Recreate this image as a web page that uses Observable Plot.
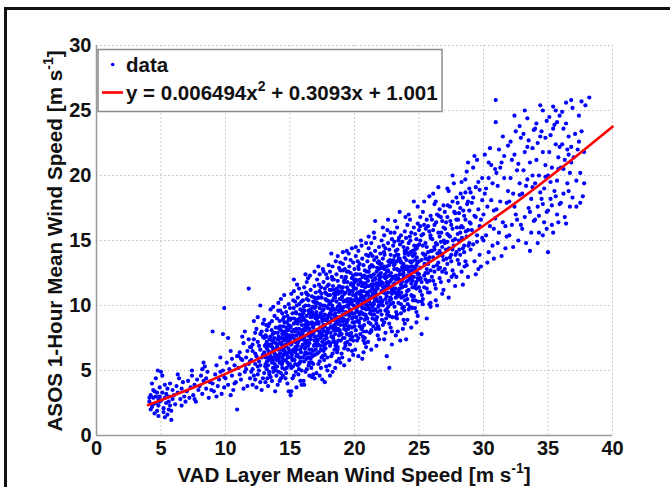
<!DOCTYPE html>
<html><head><meta charset="utf-8">
<script src="https://cdn.jsdelivr.net/npm/d3@7"></script>
<script src="https://cdn.jsdelivr.net/npm/@observablehq/plot@0.6"></script>
<style>
html,body{margin:0;padding:0;background:#fff;}
#wrap{position:relative;width:670px;height:487px;overflow:hidden;background:#fff;}
#frame{position:absolute;left:4px;top:7px;width:720px;height:540px;border-left:3px solid #111;border-top:3px solid #111;pointer-events:none;}
</style></head><body><div id="wrap"><div id="chart"></div><div id="frame"></div></div>
<script>
// Tick values
const xTicks = [0, 5, 10, 15, 20, 25, 30, 35, 40];
const yTicks = [0, 5, 10, 15, 20, 25, 30];

// Fitted curve (legend: y = 0.006494x^2 + 0.3093x + 1.001)
const fitX = [4, 6, 8, 10, 12, 14, 16, 18, 20, 22, 24, 26, 28, 30, 32, 34, 36, 38, 40];
const fitY = [2.34, 3.09, 3.89, 4.74, 5.65, 6.60, 7.61, 8.67, 9.79, 10.95, 12.17, 13.43, 14.75, 16.13, 17.55, 19.02, 20.55, 22.13, 23.76];

// Scatter points (x, y pairs), grouped by x band
const outliers = [9.0,8.0, 9.8,7.8, 9.9,9.8, 10.9,2.0, 11.8,11.3, 12.7,10.0, 8.3,5.6];
const b04 = [4.1,2.6, 4.2,3.1, 4.3,2.2, 4.4,2.9, 4.5,3.4, 4.6,2.5, 4.7,1.9, 4.8,2.8, 4.9,3.7, 4.2,2.0, 4.4,3.5, 4.6,3.0, 4.8,2.3, 4.3,4.0, 4.7,3.3, 4.9,2.6, 4.5,1.7, 4.1,2.9, 4.6,4.4, 4.8,1.5, 4.4,2.4, 4.9,3.0, 4.75,5.0];
const b05 = [5.0,2.7, 5.1,3.3, 5.2,2.1, 5.3,3.9, 5.4,2.5, 5.5,1.6, 5.6,3.0, 5.7,2.3, 5.8,1.2, 5.9,3.5, 5.1,4.6, 5.3,2.9, 5.5,3.6, 5.7,4.0, 5.2,1.8, 5.4,3.2, 5.6,2.6, 5.8,1.9, 5.9,2.8, 5.0,4.9, 5.3,1.4, 5.6,2.0];
const b06 = [6.0,3.1, 6.1,2.4, 6.2,3.8, 6.3,3.3, 6.4,4.4, 6.5,2.8, 6.6,3.6, 6.7,4.1, 6.8,3.0, 6.9,2.6, 6.3,4.7, 6.6,2.3];
const b07 = [7.0,3.4, 7.1,4.2, 7.2,2.9, 7.3,3.7, 7.4,4.6, 7.5,3.1, 7.6,3.9, 7.7,2.6, 7.8,4.3, 7.9,3.5, 7.4,5.0, 7.6,2.8];
const b08 = [8.0,3.8, 8.1,4.6, 8.2,3.2, 8.3,4.2, 8.4,5.3, 8.5,3.6, 8.6,4.9, 8.7,2.9, 8.8,4.1, 8.9,3.5, 8.5,4.4, 8.2,5.1];
const b09 = [9.0,4.0, 9.1,3.4, 9.2,4.7, 9.3,5.4, 9.4,3.8, 9.5,4.3, 9.6,6.0, 9.7,3.2, 9.8,5.0, 9.9,4.5, 9.3,3.0, 9.6,4.9, 9.9,3.7];
const b10 = [10.0,4.4, 10.1,5.6, 10.2,3.9, 10.3,5.1, 10.4,6.5, 10.5,4.6, 10.6,3.5, 10.7,5.4, 10.8,4.1, 10.9,6.1, 10.2,7.5, 10.5,5.9, 10.7,4.0, 10.4,3.1];
const b11 = [11.0,5.2, 11.1,6.4, 11.2,4.3, 11.3,5.8, 11.4,7.1, 11.5,4.9, 11.6,6.0, 11.7,3.8, 11.8,5.5, 11.9,6.8, 11.1,4.7, 11.3,7.6, 11.5,5.4, 11.7,6.5, 11.9,4.4, 11.2,5.9, 11.4,3.6, 11.6,5.1, 11.8,7.4, 11.0,6.1, 11.5,8.0, 11.9,5.7];
const b12 = [12.0,5.8, 12.1,7.0, 12.2,4.6, 12.3,6.3, 12.4,8.2, 12.5,5.3, 12.6,6.9, 12.7,4.1, 12.8,6.0, 12.9,7.6, 12.0,4.9, 12.1,6.5, 12.2,8.8, 12.3,5.5, 12.4,3.7, 12.5,7.2, 12.6,5.0, 12.7,6.6, 12.8,8.0, 12.9,4.4, 12.0,6.8, 12.1,5.1, 12.2,7.4, 12.3,4.3, 12.4,6.1, 12.5,9.1, 12.6,5.7, 12.7,7.8, 12.8,3.5, 12.9,6.2, 12.3,7.9, 12.5,4.7, 12.7,5.4, 12.9,8.6, 12.1,3.9];
const b13 = [13.0,6.4, 13.1,7.7, 13.2,5.1, 13.3,6.9, 13.4,8.6, 13.5,4.5, 13.6,7.3, 13.7,5.8, 13.8,9.2, 13.9,6.2, 13.0,4.8, 13.1,6.0, 13.2,8.1, 13.3,5.4, 13.4,7.0, 13.5,9.7, 13.6,4.2, 13.7,6.6, 13.8,7.9, 13.9,5.0, 13.0,7.5, 13.1,5.5, 13.2,6.7, 13.3,3.8, 13.4,5.9, 13.5,7.6, 13.6,8.8, 13.7,4.9, 13.8,6.3, 13.9,7.1, 13.0,8.9, 13.1,4.1, 13.2,7.2, 13.3,8.4, 13.4,4.7, 13.5,6.1, 13.6,5.6, 13.7,9.9, 13.8,5.2, 13.9,8.3, 13.05,6.9, 13.25,4.4, 13.45,6.4, 13.65,7.8, 13.85,3.4, 13.15,8.5, 13.35,5.8, 13.55,7.0, 13.75,6.0, 13.95,4.6];
const b14 = [14.0,7.0, 14.1,8.3, 14.2,5.6, 14.3,7.5, 14.4,9.4, 14.5,6.2, 14.6,8.0, 14.7,4.8, 14.8,7.2, 14.9,10.1, 14.0,5.3, 14.1,6.6, 14.2,8.8, 14.3,4.4, 14.4,7.8, 14.5,5.8, 14.6,9.9, 14.7,6.9, 14.8,4.0, 14.9,8.5, 14.0,9.0, 14.1,4.9, 14.2,7.1, 14.3,10.5, 14.4,6.0, 14.5,8.4, 14.6,5.1, 14.7,7.6, 14.8,9.2, 14.9,6.4, 14.0,6.1, 14.1,10.2, 14.2,4.2, 14.3,8.1, 14.4,5.2, 14.5,7.3, 14.6,6.5, 14.7,9.5, 14.8,5.6, 14.9,3.4, 14.05,7.9, 14.15,5.8, 14.25,9.6, 14.35,6.7, 14.45,4.6, 14.55,10.8, 14.65,7.0, 14.75,8.7, 14.85,6.0, 14.95,7.7, 14.05,3.9, 14.25,6.3, 14.45,8.9, 14.65,4.4, 14.85,8.1, 14.15,7.4, 14.35,5.5, 14.55,6.8, 14.75,5.2, 14.95,9.0];
const b15 = [15.0,7.4, 15.1,9.0, 15.2,5.9, 15.3,12.0, 15.3,8.1, 15.4,10.3, 15.5,6.6, 15.6,8.6, 15.7,5.1, 15.8,7.8, 15.9,10.9, 15.0,5.5, 15.1,7.0, 15.2,9.4, 15.3,4.6, 15.4,8.0, 15.5,6.1, 15.6,10.6, 15.7,7.3, 15.8,4.2, 15.9,9.2, 15.0,9.8, 15.1,5.2, 15.2,7.6, 15.3,11.1, 15.4,6.4, 15.5,8.9, 15.6,5.4, 15.7,8.2, 15.8,9.7, 15.9,6.8, 15.0,6.5, 15.1,10.9, 15.2,4.4, 15.3,8.6, 15.4,5.5, 15.5,7.7, 15.6,6.9, 15.7,10.1, 15.8,6.0, 15.9,3.9, 15.05,8.4, 15.15,6.2, 15.25,10.4, 15.35,7.2, 15.45,4.9, 15.55,11.6, 15.65,7.4, 15.75,9.3, 15.85,6.4, 15.95,8.1, 15.05,3.1, 15.25,6.6, 15.45,9.5, 15.65,4.7, 15.85,8.8, 15.15,8.0, 15.35,5.8, 15.55,7.1, 15.75,5.6, 15.95,9.6, 15.1,3.4, 15.5,3.7, 15.9,5.0, 15.7,11.3];
const b16 = [16.0,8.0, 16.1,9.6, 16.2,6.4, 16.3,8.6, 16.4,10.8, 16.5,7.1, 16.6,9.1, 16.7,5.6, 16.8,8.3, 16.9,11.5, 16.0,6.0, 16.1,7.5, 16.2,10.0, 16.3,5.1, 16.4,8.5, 16.5,6.6, 16.6,11.2, 16.7,7.8, 16.8,4.7, 16.9,9.8, 16.0,10.4, 16.1,5.7, 16.2,8.1, 16.3,11.8, 16.4,6.9, 16.5,9.4, 16.6,5.9, 16.7,8.7, 16.8,10.3, 16.9,7.3, 16.0,7.0, 16.1,11.4, 16.2,4.9, 16.3,9.2, 16.4,6.0, 16.5,8.2, 16.6,7.4, 16.7,10.7, 16.8,6.5, 16.9,4.4, 16.05,8.9, 16.15,6.7, 16.25,11.0, 16.35,7.7, 16.45,5.4, 16.55,12.3, 16.65,7.9, 16.75,9.9, 16.85,6.9, 16.95,8.6, 16.05,4.2, 16.25,7.1, 16.45,10.0, 16.65,5.2, 16.85,9.3, 16.15,8.5, 16.35,6.3, 16.55,7.6, 16.75,6.1, 16.95,10.2, 16.1,3.9, 16.4,12.1, 16.7,4.5, 16.9,12.6, 16.3,10.5, 16.6,9.7, 16.8,5.5, 16.0,9.1, 16.5,4.6, 16.2,12.4];
const b17 = [17.0,8.6, 17.1,10.2, 17.2,7.0, 17.3,9.2, 17.4,11.4, 17.5,7.7, 17.6,9.7, 17.7,6.2, 17.8,8.9, 17.9,12.1, 17.0,6.6, 17.1,8.1, 17.2,10.6, 17.3,5.7, 17.4,9.1, 17.5,7.2, 17.6,11.8, 17.7,8.4, 17.8,5.3, 17.9,10.4, 17.0,11.0, 17.1,6.3, 17.2,8.7, 17.3,12.4, 17.4,7.5, 17.5,10.0, 17.6,6.5, 17.7,9.3, 17.8,10.9, 17.9,7.9, 17.0,7.6, 17.1,12.0, 17.2,5.5, 17.3,9.8, 17.4,6.6, 17.5,8.8, 17.6,8.0, 17.7,11.3, 17.8,7.1, 17.9,5.0, 17.05,9.5, 17.15,7.3, 17.25,11.6, 17.35,8.3, 17.45,6.0, 17.55,12.8, 17.65,8.5, 17.75,10.5, 17.85,7.5, 17.95,9.2, 17.05,4.8, 17.25,7.7, 17.45,10.6, 17.65,5.8, 17.85,9.9, 17.15,9.1, 17.35,6.9, 17.55,8.2, 17.75,6.7, 17.95,10.8, 17.5,4.3, 17.7,4.1, 17.3,4.6, 17.9,6.0, 17.2,13.0, 17.6,12.6, 17.8,12.4, 17.4,5.2, 17.0,9.9, 17.7,7.0];
const b18 = [18.0,9.2, 18.1,10.8, 18.2,7.6, 18.3,9.8, 18.4,12.0, 18.5,8.3, 18.6,10.3, 18.7,6.8, 18.8,9.5, 18.9,12.7, 18.0,7.2, 18.1,8.7, 18.2,11.2, 18.3,6.3, 18.4,9.7, 18.5,7.8, 18.6,12.4, 18.7,9.0, 18.8,5.9, 18.9,11.0, 18.0,11.6, 18.1,6.9, 18.2,9.3, 18.3,13.0, 18.4,8.1, 18.5,10.6, 18.6,7.1, 18.7,9.9, 18.8,11.5, 18.9,8.5, 18.0,8.2, 18.1,12.6, 18.2,6.1, 18.3,10.4, 18.4,7.2, 18.5,9.4, 18.6,8.6, 18.7,11.9, 18.8,7.7, 18.9,5.6, 18.05,10.1, 18.15,7.9, 18.25,12.2, 18.35,8.9, 18.45,6.6, 18.55,13.4, 18.65,9.1, 18.75,11.1, 18.85,8.1, 18.95,9.8, 18.05,5.4, 18.25,8.3, 18.45,11.2, 18.65,6.4, 18.85,10.5, 18.15,9.7, 18.35,7.5, 18.55,8.8, 18.75,7.3, 18.95,11.4, 18.1,4.6, 18.3,4.9, 18.5,5.2, 18.7,13.8, 18.9,13.3, 18.2,14.0, 18.4,10.9, 18.6,5.7, 18.8,12.9, 18.0,13.1];
const b19 = [19.0,9.8, 19.1,11.4, 19.2,8.2, 19.3,10.4, 19.4,12.6, 19.5,8.9, 19.6,10.9, 19.7,7.4, 19.8,10.1, 19.9,13.3, 19.0,7.8, 19.1,9.3, 19.2,11.8, 19.3,6.9, 19.4,10.3, 19.5,8.4, 19.6,13.0, 19.7,9.6, 19.8,6.5, 19.9,11.6, 19.0,12.2, 19.1,7.5, 19.2,9.9, 19.3,13.6, 19.4,8.7, 19.5,11.2, 19.6,7.7, 19.7,10.5, 19.8,12.1, 19.9,9.1, 19.0,8.8, 19.1,13.2, 19.2,6.7, 19.3,11.0, 19.4,7.8, 19.5,10.0, 19.6,9.2, 19.7,12.5, 19.8,8.3, 19.9,6.2, 19.05,10.7, 19.15,8.5, 19.25,12.8, 19.35,9.5, 19.45,7.2, 19.55,14.0, 19.65,9.7, 19.75,11.7, 19.85,8.7, 19.95,10.4, 19.05,6.0, 19.25,8.9, 19.45,11.8, 19.65,7.0, 19.85,11.1, 19.15,10.3, 19.35,8.1, 19.55,9.4, 19.75,7.9, 19.95,12.0, 19.2,5.4, 19.6,5.8, 19.8,14.4, 19.4,14.2, 19.0,6.3, 19.7,13.5, 19.3,12.1, 19.9,7.3, 19.5,6.6, 19.1,14.1];
const b20 = [20.0,10.4, 20.1,12.0, 20.2,8.8, 20.3,11.0, 20.4,13.2, 20.5,9.5, 20.6,11.5, 20.7,8.0, 20.8,10.7, 20.9,13.9, 20.0,8.4, 20.1,9.9, 20.2,12.4, 20.3,7.5, 20.4,10.9, 20.5,9.0, 20.6,13.6, 20.7,10.2, 20.8,7.1, 20.9,12.2, 20.0,12.8, 20.1,8.1, 20.2,10.5, 20.3,14.2, 20.4,9.3, 20.5,11.8, 20.6,8.3, 20.7,11.1, 20.8,12.7, 20.9,9.7, 20.0,9.4, 20.1,13.8, 20.2,7.3, 20.3,11.6, 20.4,8.4, 20.5,10.6, 20.6,9.8, 20.7,13.1, 20.8,8.9, 20.9,6.8, 20.05,11.3, 20.15,9.1, 20.25,13.4, 20.35,10.1, 20.45,7.8, 20.55,14.6, 20.65,10.3, 20.75,12.3, 20.85,9.3, 20.95,11.0, 20.05,6.6, 20.25,9.5, 20.45,12.4, 20.65,7.6, 20.85,11.7, 20.15,10.9, 20.35,8.7, 20.55,10.0, 20.75,8.5, 20.95,12.6, 20.3,6.1, 20.7,6.4, 20.5,15.0, 20.9,14.8, 20.1,14.5, 20.6,5.9, 20.2,11.9, 20.8,7.5];
const b21 = [21.0,11.0, 21.1,12.6, 21.2,9.4, 21.3,11.6, 21.4,13.8, 21.5,10.1, 21.6,12.1, 21.7,8.6, 21.8,11.3, 21.9,14.5, 21.0,9.0, 21.1,10.5, 21.2,13.0, 21.3,8.1, 21.4,11.5, 21.5,9.6, 21.6,14.2, 21.7,10.8, 21.8,7.7, 21.9,12.8, 21.0,13.4, 21.1,8.7, 21.2,11.1, 21.3,14.8, 21.4,9.9, 21.5,12.4, 21.6,8.9, 21.7,11.7, 21.8,13.3, 21.9,10.3, 21.0,10.0, 21.1,14.4, 21.2,7.9, 21.3,12.2, 21.4,9.0, 21.5,11.2, 21.6,10.4, 21.7,13.7, 21.8,9.5, 21.9,7.4, 21.05,11.9, 21.15,9.7, 21.25,14.0, 21.35,10.7, 21.45,8.4, 21.55,15.2, 21.65,10.9, 21.75,12.9, 21.85,9.9, 21.95,11.6, 21.05,7.2, 21.25,10.1, 21.45,13.0, 21.65,8.2, 21.85,12.3, 21.15,11.5, 21.35,9.3, 21.55,10.6, 21.75,9.1, 21.95,13.2, 21.3,6.6, 21.7,6.9, 21.5,15.6, 21.9,8.2, 21.1,15.3, 21.6,16.5];
const b22 = [22.0,11.6, 22.1,13.2, 22.2,10.0, 22.3,12.2, 22.4,14.4, 22.5,10.7, 22.6,12.7, 22.7,9.2, 22.8,11.9, 22.9,15.1, 22.0,9.6, 22.1,11.1, 22.2,13.6, 22.3,8.7, 22.4,12.1, 22.5,10.2, 22.6,14.8, 22.7,11.4, 22.8,8.3, 22.9,13.4, 22.0,14.0, 22.1,9.3, 22.2,11.7, 22.3,15.4, 22.4,10.5, 22.5,13.0, 22.6,9.5, 22.7,12.3, 22.8,13.9, 22.9,10.9, 22.0,10.6, 22.1,15.0, 22.2,8.5, 22.3,12.8, 22.4,9.6, 22.5,11.8, 22.6,11.0, 22.7,14.3, 22.8,10.1, 22.9,8.0, 22.05,12.5, 22.15,10.3, 22.25,14.6, 22.35,11.3, 22.45,9.0, 22.55,15.8, 22.65,11.5, 22.75,13.5, 22.85,10.5, 22.95,12.2, 22.7,5.2, 22.5,6.1, 22.3,7.4, 22.9,7.0, 22.6,16.6, 22.2,16.0, 22.8,15.6, 22.4,7.9];
const b23 = [23.0,12.2, 23.1,13.8, 23.2,10.6, 23.3,12.8, 23.4,15.0, 23.5,11.3, 23.6,13.3, 23.7,9.8, 23.8,12.5, 23.9,15.7, 23.0,10.2, 23.1,11.7, 23.2,14.2, 23.3,9.3, 23.4,12.7, 23.5,10.8, 23.6,15.4, 23.7,12.0, 23.8,8.9, 23.9,14.0, 23.0,14.6, 23.1,9.9, 23.2,12.3, 23.3,16.0, 23.4,11.1, 23.5,13.6, 23.6,10.1, 23.7,12.9, 23.8,14.5, 23.9,11.5, 23.0,11.2, 23.1,15.6, 23.2,9.1, 23.3,13.4, 23.4,10.2, 23.5,12.4, 23.6,11.6, 23.7,14.9, 23.8,10.7, 23.9,8.6, 23.05,13.1, 23.25,10.9, 23.45,15.2, 23.65,11.9, 23.85,9.6, 23.15,16.5, 23.55,7.3, 23.75,8.2, 23.35,8.0, 23.95,16.8, 23.5,17.2, 23.2,7.7, 23.8,13.2, 23.4,13.9, 23.6,9.4];
const b24 = [24.0,12.8, 24.1,14.4, 24.2,11.2, 24.3,13.4, 24.4,15.6, 24.5,11.9, 24.6,13.9, 24.7,10.4, 24.8,13.1, 24.9,16.3, 24.0,10.8, 24.1,12.3, 24.2,14.8, 24.3,9.9, 24.4,13.3, 24.5,11.4, 24.6,16.0, 24.7,12.6, 24.8,9.5, 24.9,14.6, 24.0,15.2, 24.1,10.5, 24.2,12.9, 24.3,16.6, 24.4,11.7, 24.5,14.2, 24.6,10.7, 24.7,13.5, 24.8,15.1, 24.9,12.1, 24.0,11.8, 24.1,16.2, 24.2,9.7, 24.3,14.0, 24.4,10.8, 24.5,13.0, 24.6,12.2, 24.7,15.5, 24.8,11.3, 24.9,9.2, 24.0,7.4, 24.4,8.3, 24.6,18.0, 24.2,17.0, 24.8,8.7, 24.3,12.0, 24.7,14.3, 24.1,8.9, 24.9,17.6, 24.5,9.8];
const b25 = [25.0,13.4, 25.1,15.0, 25.2,11.8, 25.3,14.0, 25.4,16.2, 25.5,12.5, 25.6,14.5, 25.7,11.0, 25.8,13.7, 25.9,16.9, 25.0,11.4, 25.1,12.9, 25.2,15.4, 25.3,10.5, 25.4,13.9, 25.5,12.0, 25.6,16.6, 25.7,13.2, 25.8,10.1, 25.9,15.2, 25.0,15.8, 25.1,11.1, 25.2,13.5, 25.3,17.2, 25.4,12.3, 25.5,14.8, 25.6,11.3, 25.7,14.1, 25.8,15.7, 25.9,12.7, 25.0,12.4, 25.1,16.8, 25.2,10.3, 25.3,14.6, 25.4,11.4, 25.5,13.6, 25.6,12.8, 25.7,16.1, 25.8,11.9, 25.9,9.9, 25.2,7.8, 25.6,9.0, 25.9,10.2, 25.4,18.0, 25.8,18.4];
const b26 = [26.0,14.2, 26.1,15.8, 26.2,12.6, 26.3,14.8, 26.4,17.0, 26.5,13.3, 26.6,15.3, 26.7,11.8, 26.8,14.5, 26.9,17.7, 26.0,12.2, 26.1,13.7, 26.2,16.2, 26.3,11.3, 26.4,14.7, 26.5,12.8, 26.6,17.4, 26.7,14.0, 26.8,10.9, 26.9,16.0, 26.0,16.6, 26.1,11.9, 26.2,14.3, 26.3,18.0, 26.4,13.1, 26.5,15.6, 26.6,12.1, 26.7,14.9, 26.8,16.5, 26.9,13.5, 26.1,18.6, 26.3,10.4, 26.5,19.1, 26.7,16.8, 26.9,11.2, 26.2,17.8, 26.4,10.0, 26.8,12.6];
const b27 = [27.0,14.8, 27.1,16.4, 27.2,13.2, 27.3,15.4, 27.4,17.6, 27.5,13.9, 27.6,15.9, 27.7,12.4, 27.8,15.1, 27.9,18.3, 27.0,12.8, 27.1,14.3, 27.2,16.8, 27.3,11.9, 27.4,15.3, 27.5,13.4, 27.6,18.0, 27.7,14.6, 27.8,11.5, 27.9,16.6, 27.0,17.2, 27.1,12.5, 27.2,14.9, 27.3,18.8, 27.4,13.7, 27.5,16.2, 27.6,12.7, 27.7,19.4, 27.8,17.1, 27.9,14.1, 27.3,10.6, 27.6,20.0, 27.9,12.2, 27.2,19.0];
const b28 = [28.0,15.5, 28.1,17.1, 28.2,13.9, 28.3,16.1, 28.4,18.3, 28.5,14.6, 28.6,16.6, 28.7,13.1, 28.8,15.8, 28.9,19.0, 28.0,13.5, 28.1,15.0, 28.2,17.5, 28.3,12.6, 28.4,16.0, 28.5,14.1, 28.6,18.7, 28.7,15.3, 28.8,12.2, 28.9,17.3, 28.0,17.9, 28.1,13.2, 28.2,15.6, 28.3,19.5, 28.4,14.4, 28.5,16.9, 28.6,13.4, 28.7,20.3, 28.8,18.0, 28.9,14.8, 28.4,11.6, 28.8,21.0];
const b29 = [29.0,16.3, 29.1,17.9, 29.2,14.7, 29.3,16.9, 29.4,19.1, 29.5,15.4, 29.6,17.4, 29.7,13.9, 29.8,16.6, 29.9,19.8, 29.0,14.3, 29.1,15.8, 29.2,18.3, 29.3,13.4, 29.4,16.8, 29.5,14.9, 29.6,19.5, 29.7,16.1, 29.8,13.0, 29.9,18.1, 29.0,18.7, 29.2,20.6, 29.4,12.4, 29.5,21.2, 29.7,18.9, 29.9,15.2, 29.3,21.5, 29.6,12.8];
const b30 = [30.0,17.0, 30.1,18.6, 30.2,15.4, 30.3,17.6, 30.4,19.8, 30.5,16.1, 30.6,18.1, 30.7,14.6, 30.8,17.3, 30.9,20.5, 30.0,15.0, 30.2,19.0, 30.4,14.1, 30.6,20.8, 30.8,15.9, 30.1,21.6, 30.3,13.3, 30.5,22.1, 30.7,19.4, 30.9,16.7, 30.95,25.8, 30.95,24.1, 30.4,21.0, 30.8,13.6];
const b31 = [31.0,17.4, 31.1,19.2, 31.2,15.6, 31.3,18.0, 31.4,21.0, 31.5,16.4, 31.6,19.8, 31.7,14.4, 31.8,17.9, 31.9,22.3, 31.1,14.8, 31.3,20.6, 31.5,23.0, 31.7,16.1, 31.9,18.8, 31.2,22.0, 31.4,13.8, 31.6,21.5, 31.8,15.3, 31.0,20.2];
const b32 = [32.0,18.0, 32.1,19.8, 32.2,16.2, 32.3,18.6, 32.4,21.6, 32.5,17.0, 32.6,20.4, 32.7,15.0, 32.8,18.5, 32.9,22.9, 32.0,15.4, 32.2,21.2, 32.4,24.6, 32.6,16.6, 32.8,19.4, 32.1,22.6, 32.3,14.5, 32.5,23.4, 32.7,20.9, 32.9,16.2, 32.4,17.6, 32.8,23.8];
const b33 = [33.0,18.6, 33.1,20.4, 33.2,16.8, 33.3,19.2, 33.4,22.2, 33.5,17.5, 33.6,21.0, 33.7,15.6, 33.8,19.1, 33.9,23.5, 33.0,15.9, 33.2,21.8, 33.4,24.4, 33.6,17.2, 33.8,20.0, 33.1,23.2, 33.3,14.8, 33.5,22.7, 33.7,18.2, 33.9,16.5, 33.2,25.0, 33.6,14.2, 33.8,22.1, 33.4,19.7];
const b34 = [34.0,19.4, 34.1,21.2, 34.2,17.6, 34.3,20.0, 34.4,23.0, 34.5,18.2, 34.6,21.8, 34.7,16.4, 34.8,19.9, 34.9,24.2, 34.0,16.6, 34.2,22.5, 34.4,25.4, 34.6,17.8, 34.8,20.8, 34.1,24.0, 34.3,15.6, 34.5,23.4, 34.7,19.0, 34.9,17.2, 34.2,14.8, 34.6,15.4, 34.8,22.9, 34.4,18.7, 34.0,23.6, 34.6,25.0, 34.9,15.9, 34.3,16.9];
const b35 = [35.0,20.0, 35.1,21.8, 35.2,18.2, 35.3,20.6, 35.4,23.6, 35.5,18.8, 35.6,22.4, 35.7,17.0, 35.8,20.5, 35.9,24.6, 35.0,17.3, 35.2,23.1, 35.4,25.3, 35.6,18.4, 35.8,21.4, 35.1,24.5, 35.3,16.2, 35.5,23.9, 35.7,19.6, 35.9,17.8, 35.0,14.1, 35.4,15.6, 35.8,16.4, 35.2,19.5, 35.6,25.0, 35.9,22.2, 35.3,17.7, 35.7,24.1];
const b36 = [36.0,20.6, 36.1,22.4, 36.2,18.6, 36.3,21.2, 36.4,24.0, 36.5,19.4, 36.6,23.0, 36.7,17.6, 36.8,21.0, 36.9,25.2, 36.0,17.9, 36.2,23.6, 36.4,25.6, 36.6,18.8, 36.8,22.2, 36.1,24.9, 36.3,16.8, 36.5,22.0, 36.7,20.2, 36.9,18.3, 36.4,16.3, 36.8,25.8, 36.2,20.5, 36.6,21.6];
const b37 = [37.0,21.4, 37.1,23.2, 37.2,19.6, 37.3,22.0, 37.4,24.6, 37.5,20.2, 37.6,23.4, 37.7,18.4, 37.8,21.8, 37.9,25.4, 37.2,17.6, 37.4,22.6, 37.6,25.7, 37.8,19.4, 38.2,26.0, 37.5,17.9];

// Extra points for the dense core of the cloud
const c13 = [13.02,6.2, 13.12,7.0, 13.22,5.7, 13.32,6.5, 13.42,7.4, 13.52,5.9, 13.62,6.8, 13.72,7.2, 13.82,5.5, 13.92,6.7, 13.08,5.3, 13.18,7.6, 13.28,6.0, 13.38,4.9, 13.48,6.9, 13.58,8.1, 13.68,5.2, 13.78,7.5, 13.88,6.1, 13.98,5.8];
const c14 = [14.02,6.8, 14.12,7.6, 14.22,6.3, 14.32,7.1, 14.42,8.0, 14.52,6.5, 14.62,7.4, 14.72,7.8, 14.82,6.1, 14.92,7.3, 14.08,5.9, 14.18,8.2, 14.28,6.6, 14.38,5.5, 14.48,7.5, 14.58,8.7, 14.68,5.8, 14.78,8.1, 14.88,6.7, 14.98,6.4];
const c15 = [15.02,8.3, 15.12,6.4, 15.22,7.7, 15.32,9.0, 15.42,6.8, 15.52,7.3, 15.62,8.8, 15.72,6.0, 15.82,7.6, 15.92,8.5, 15.08,7.0, 15.18,5.8, 15.28,8.1, 15.38,7.4, 15.48,9.4, 15.58,6.2, 15.68,7.9, 15.78,6.6, 15.88,9.2, 15.98,7.8];
const c16 = [16.02,7.4, 16.12,8.9, 16.22,6.8, 16.32,8.3, 16.42,9.6, 16.52,7.7, 16.62,6.3, 16.72,8.0, 16.82,9.2, 16.92,7.0, 16.08,9.9, 16.18,7.2, 16.28,5.9, 16.38,8.7, 16.48,7.9, 16.58,9.4, 16.68,6.6, 16.78,8.4, 16.88,7.6, 16.98,9.0];
const c17 = [17.02,9.3, 17.12,7.4, 17.22,8.6, 17.32,10.1, 17.42,7.9, 17.52,9.6, 17.62,6.9, 17.72,8.9, 17.82,10.4, 17.92,8.2, 17.08,7.1, 17.18,10.6, 17.28,8.0, 17.38,9.4, 17.48,6.6, 17.58,8.5, 17.68,10.0, 17.78,7.7, 17.88,9.0, 17.98,8.7];
const c18 = [18.02,8.7, 18.12,10.2, 18.22,9.0, 18.32,7.6, 18.42,10.6, 18.52,9.7, 18.62,8.1, 18.72,10.9, 18.82,8.8, 18.92,9.9, 18.08,11.2, 18.18,8.4, 18.28,10.0, 18.38,7.3, 18.48,9.2, 18.58,11.0, 18.68,8.6, 18.78,9.6, 18.88,7.9, 18.98,10.5];
const c19 = [19.02,10.6, 19.12,8.8, 19.22,10.9, 19.32,9.3, 19.42,11.4, 19.52,8.2, 19.62,10.2, 19.72,11.6, 19.82,9.0, 19.92,10.0, 19.08,9.6, 19.18,11.9, 19.28,8.5, 19.38,10.4, 19.48,9.9, 19.58,7.8, 19.68,11.1, 19.78,9.4, 19.88,10.8, 19.98,8.7];
const c20 = [20.02,9.9, 20.12,11.3, 20.22,10.2, 20.32,8.8, 20.42,12.0, 20.52,10.8, 20.62,9.4, 20.72,11.7, 20.82,10.4, 20.92,9.1, 20.08,12.4, 20.18,9.6, 20.28,11.0, 20.38,10.0, 20.48,8.4, 20.58,11.5, 20.68,10.6, 20.78,9.8, 20.88,12.1, 20.98,10.9];
const c21 = [21.02,11.5, 21.12,9.8, 21.22,12.3, 21.32,10.6, 21.42,11.9, 21.52,9.3, 21.62,11.1, 21.72,12.6, 21.82,10.3, 21.92,11.8, 21.08,10.8, 21.18,12.9, 21.28,9.6, 21.38,11.3, 21.48,10.2, 21.58,12.0, 21.68,8.9, 21.78,11.6, 21.88,10.0, 21.98,12.4];
const c22 = [22.02,12.2, 22.12,10.4, 22.22,11.4, 22.32,13.0, 22.42,10.9, 22.52,12.6, 22.62,9.9, 22.72,11.8, 22.82,13.3, 22.92,11.1, 22.08,10.1, 22.18,12.9, 22.28,11.0, 22.38,12.4, 22.48,9.7, 22.58,11.6, 22.68,13.1, 22.78,10.6, 22.88,12.0, 22.98,11.3];
const c23 = [23.02,11.6, 23.12,13.2, 23.22,12.0, 23.32,10.7, 23.42,13.6, 23.52,12.4, 23.62,11.0, 23.72,13.0, 23.82,12.2, 23.92,10.4, 23.08,12.8, 23.18,11.3, 23.28,13.9, 23.38,12.1, 23.48,10.9, 23.58,13.4, 23.68,11.8, 23.78,12.7, 23.88,13.7, 23.98,11.5];
const c24 = [24.02,13.5, 24.12,11.9, 24.22,12.6, 24.32,14.1, 24.42,12.2, 24.52,13.8, 24.62,11.4, 24.72,12.9, 24.82,14.4, 24.92,12.4, 24.08,11.1, 24.18,13.9, 24.28,12.3, 24.38,13.0, 24.48,10.7, 24.58,12.7, 24.68,14.0, 24.78,11.8, 24.88,13.3, 24.98,12.0];
const d14 = [14.03,7.4, 14.13,6.1, 14.23,8.4, 14.33,7.0, 14.43,5.7, 14.53,9.1, 14.63,6.9, 14.73,8.3, 14.83,7.5, 14.93,5.4, 14.09,9.6, 14.29,4.8, 14.49,7.8, 14.69,6.3, 14.89,8.9];
const d15 = [15.03,8.9, 15.13,7.6, 15.23,5.3, 15.33,6.6, 15.43,8.7, 15.53,10.0, 15.63,7.2, 15.73,9.0, 15.83,5.7, 15.93,7.4, 15.09,6.0, 15.29,9.8, 15.49,8.2, 15.69,5.5, 15.89,10.3];
const d16 = [16.03,9.4, 16.13,6.2, 16.23,8.8, 16.33,7.3, 16.43,10.4, 16.53,6.0, 16.63,8.6, 16.73,9.5, 16.83,7.9, 16.93,6.2, 16.09,8.2, 16.29,10.9, 16.49,5.6, 16.69,9.1, 16.89,10.6];
const d17 = [17.03,10.5, 17.13,8.8, 17.23,6.4, 17.33,7.8, 17.43,10.9, 17.53,6.1, 17.63,9.2, 17.73,11.0, 17.83,8.0, 17.93,9.8, 17.09,6.9, 17.29,11.1, 17.49,9.0, 17.69,7.4, 17.89,11.5];
const d18 = [18.03,10.3, 18.13,7.1, 18.23,9.6, 18.33,11.5, 18.43,8.5, 18.53,6.9, 18.63,11.3, 18.73,8.2, 18.83,10.1, 18.93,7.3, 18.09,9.4, 18.29,12.0, 18.49,10.8, 18.69,6.6, 18.89,9.1];
const d19 = [19.03,11.1, 19.13,9.0, 19.23,7.5, 19.33,12.2, 19.43,10.0, 19.53,12.6, 19.63,8.4, 19.73,10.3, 19.83,7.6, 19.93,11.4, 19.09,12.7, 19.29,7.1, 19.49,10.5, 19.69,9.5, 19.89,12.3];
const d20 = [20.03,11.8, 20.13,7.7, 20.23,9.9, 20.33,12.8, 20.43,10.4, 20.53,8.2, 20.63,12.2, 20.73,9.3, 20.83,11.4, 20.93,8.0, 20.09,10.7, 20.29,13.0, 20.49,11.1, 20.69,7.3, 20.89,10.1];
const d21 = [21.03,12.2, 21.13,10.3, 21.23,8.6, 21.33,13.1, 21.43,10.9, 21.53,13.5, 21.63,9.7, 21.73,11.4, 21.83,8.4, 21.93,12.0, 21.09,13.8, 21.29,8.0, 21.49,11.6, 21.69,10.5, 21.89,13.4];
const d22 = [22.03,12.9, 22.13,8.9, 22.23,11.0, 22.33,13.9, 22.43,11.5, 22.53,9.3, 22.63,13.4, 22.73,10.4, 22.83,12.5, 22.93,9.1, 22.09,11.8, 22.29,14.1, 22.49,12.2, 22.69,8.6, 22.89,11.2];
const d23 = [23.03,13.5, 23.13,11.0, 23.23,9.5, 23.33,14.3, 23.43,12.0, 23.53,14.7, 23.63,10.6, 23.73,12.4, 23.83,9.9, 23.93,13.0, 23.09,14.9, 23.29,9.0, 23.49,12.7, 23.69,11.4, 23.89,14.2];
const d24 = [24.03,14.1, 24.13,10.1, 24.23,12.2, 24.33,15.0, 24.43,12.7, 24.53,10.4, 24.63,14.6, 24.73,11.6, 24.83,13.7, 24.93,10.3, 24.09,13.0, 24.29,15.3, 24.49,13.4, 24.69,9.8, 24.89,12.5];
const d25 = [25.03,14.7, 25.13,12.1, 25.23,10.8, 25.33,15.5, 25.43,13.2, 25.53,15.9, 25.63,11.8, 25.73,13.5, 25.83,11.0, 25.93,14.2, 25.09,16.1, 25.29,10.1, 25.49,13.9, 25.69,12.5, 25.89,15.4];
const d26 = [26.03,15.1, 26.13,13.0, 26.23,11.6, 26.33,16.4, 26.43,14.0, 26.53,16.9, 26.63,12.9, 26.73,15.6, 26.83,13.8, 26.93,15.0, 26.19,14.5, 26.59,14.2];
const d27 = [27.03,15.9, 27.13,13.6, 27.23,17.7, 27.33,14.4, 27.43,16.5, 27.53,12.2, 27.63,15.0, 27.73,17.2, 27.83,13.9, 27.93,16.0, 27.19,15.5, 27.59,14.3];
const d28 = [28.03,16.6, 28.13,14.3, 28.23,18.6, 28.33,15.2, 28.43,17.3, 28.53,13.0, 28.63,15.7, 28.73,17.8, 28.83,14.6, 28.93,16.4, 28.19,16.0, 28.59,19.7];

const groups = [outliers, b04, b05, b06, b07, b08, b09, b10, b11, b12, b13, b14, b15, b16, b17, b18, b19, b20, b21, b22, b23, b24, b25, b26, b27, b28, b29, b30, b31, b32, b33, b34, b35, b36, b37,
  c13, c14, c15, c16, c17, c18, c19, c20, c21, c22, c23, c24,
  d14, d15, d16, d17, d18, d19, d20, d21, d22, d23, d24, d25, d26, d27, d28];

function toPoints(a) {
  const r = [];
  for (let i = 0; i + 1 < a.length; i += 2) r.push({x: a[i], y: a[i + 1]});
  return r;
}
const points = groups.flatMap(toPoints);
const fit = fitX.map((x, i) => ({x, y: fitY[i]}));

const FONT = "'Liberation Sans', Arial, Helvetica, sans-serif";
const gridStyle = {stroke: "#bdbdbd", strokeOpacity: 1, strokeWidth: 1, strokeDasharray: "1.5,2.5"};

const plot = Plot.plot({
  width: 670,
  height: 487,
  marginLeft: 96,
  marginRight: 58,
  marginTop: 45,
  marginBottom: 52,
  style: {fontFamily: FONT, fontSize: "20px", fontWeight: "bold", color: "#111", background: "transparent", overflow: "visible"},
  x: {domain: [0, 40]},
  y: {domain: [0, 30]},
  marks: [
    Plot.gridX(xTicks.filter(t => t > 0), gridStyle),
    Plot.gridY(yTicks.filter(t => t > 0), gridStyle),
    Plot.dot(points, {x: "x", y: "y", r: 2.1, fill: "#0000ff"}),
    Plot.line(fit, {x: "x", y: "y", stroke: "#ff0000", strokeWidth: 2.6, curve: "natural"}),
    Plot.ruleX([0], {stroke: "#9a9a9a", strokeWidth: 1.5}),
    Plot.ruleY([0], {stroke: "#9a9a9a", strokeWidth: 1.5}),
    Plot.axisX(xTicks, {tickSize: 0, tickPadding: 5, label: null}),
    Plot.axisY(yTicks, {tickSize: 0, tickPadding: 5, label: null})
  ]
});

const svg = d3.select(plot);

// x-axis title
const xt = svg.append("text")
  .attr("x", 354).attr("y", 482)
  .attr("text-anchor", "middle")
  .attr("fill", "#111")
  .style("font-size", "20.7px");
xt.append("tspan").text("VAD Layer Mean Wind Speed [m s");
xt.append("tspan").attr("dy", -9).style("font-size", "14px").text("-1");
xt.append("tspan").attr("dy", 9).text("]");

// y-axis title
const yt = svg.append("text")
  .attr("transform", "translate(62,241) rotate(-90)")
  .attr("text-anchor", "middle")
  .attr("fill", "#111")
  .style("font-size", "20.7px");
yt.append("tspan").text("ASOS 1-Hour Mean Wind Speed [m s");
yt.append("tspan").attr("dy", -9).style("font-size", "14px").text("-1");
yt.append("tspan").attr("dy", 9).text("]");

// legend
const lg = svg.append("g").style("font-size", "20.5px").attr("text-anchor", "start");
lg.append("rect").attr("x", 98).attr("y", 49.5).attr("width", 344).attr("height", 62)
  .attr("fill", "#fff").attr("stroke", "#8c8c8c").attr("stroke-width", 1.5);
lg.append("circle").attr("cx", 112.7).attr("cy", 64.5).attr("r", 1.8).attr("fill", "#0000ff");
lg.append("text").attr("x", 126).attr("y", 72).attr("text-anchor", "start").attr("fill", "#111").text("data");
lg.append("line").attr("x1", 102).attr("x2", 123).attr("y1", 92.5).attr("y2", 92.5)
  .attr("stroke", "#ff0000").attr("stroke-width", 2.6);
const lt = lg.append("text").attr("x", 126).attr("y", 99.5).attr("text-anchor", "start").attr("fill", "#111");
lt.append("tspan").text("y = 0.006494x");
lt.append("tspan").attr("dy", -9).style("font-size", "14px").text("2");
lt.append("tspan").attr("dy", 9).text(" + 0.3093x + 1.001");

document.getElementById("chart").appendChild(plot);
</script></body></html>
